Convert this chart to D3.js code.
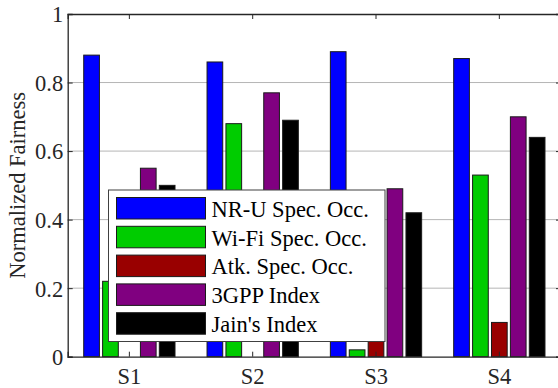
<!DOCTYPE html>
<html>
<head>
<meta charset="utf-8">
<script src="https://cdn.jsdelivr.net/npm/d3@7"></script>
<style>
  body { margin: 0; background: #fff; }
  svg { display: block; font-family: "Liberation Serif", "Times New Roman", serif; }
</style>
</head>
<body>
<div id="chart"></div>
<script>
var scenarios = ['S1', 'S2', 'S3', 'S4'];
var seriesNames = ['NR-U Spec. Occ.', 'Wi-Fi Spec. Occ.', 'Atk. Spec. Occ.', '3GPP Index', "Jain's Index"];
var seriesColors = ['#0000ff', '#00cc00', '#990000', '#800080', '#000000'];
var nruOcc = [0.88, 0.86, 0.89, 0.87];
var wifiOcc = [0.22, 0.68, 0.02, 0.53];
var atkOcc = [0, 0, 0.08, 0.10];
var gppIndex = [0.55, 0.77, 0.49, 0.70];
var jainIndex = [0.50, 0.69, 0.42, 0.64];
var yTicks = [0, 0.2, 0.4, 0.6, 0.8, 1];

var seriesValues = [nruOcc, wifiOcc, atkOcc, gppIndex, jainIndex];

var width = 558, height = 388;
var plot = { left: 67.7, right: 561, top: 14, bottom: 356.7 };
var axisColor = '#262626';
var fontSize = '22.5px';

var svg = d3.select('#chart').append('svg')
  .attr('width', width)
  .attr('height', height);

var x = d3.scaleBand()
  .domain(scenarios)
  .range([plot.left, plot.right])
  .padding(0);

var inner = d3.scaleBand()
  .domain(d3.range(seriesNames.length))
  .range([-47.25, 47.25])
  .paddingInner(0.17)
  .paddingOuter(0.085);

var y = d3.scaleLinear()
  .domain([0, 1])
  .range([plot.bottom, plot.top]);

// grid
svg.append('g')
  .selectAll('line')
  .data(yTicks.slice(1, -1))
  .enter().append('line')
  .attr('x1', plot.left)
  .attr('x2', plot.right)
  .attr('y1', function (d) { return y(d); })
  .attr('y2', function (d) { return y(d); })
  .attr('stroke', '#b5b5b5')
  .attr('stroke-width', 1);

// bars
var rows = [];
scenarios.forEach(function (s, i) {
  seriesValues.forEach(function (vals, k) {
    rows.push({ scen: s, k: k, v: vals[i] });
  });
});

svg.append('g')
  .selectAll('rect')
  .data(rows.filter(function (d) { return d.v > 0; }))
  .enter().append('rect')
  .attr('x', function (d) { return x(d.scen) + x.bandwidth() / 2 + inner(d.k); })
  .attr('y', function (d) { return y(d.v); })
  .attr('width', inner.bandwidth())
  .attr('height', function (d) { return y(0) - y(d.v); })
  .attr('fill', function (d) { return seriesColors[d.k]; })
  .attr('stroke', '#1a1a1a')
  .attr('stroke-width', 1);

// axes
var yAxis = svg.append('g')
  .attr('transform', 'translate(' + plot.left + ',0)')
  .call(d3.axisLeft(y).tickValues(yTicks).tickSize(-5).tickPadding(4.5)
    .tickFormat(function (d) { return d === 0 || d === 1 ? d3.format('d')(d) : d3.format('.1f')(d); }));

var yAxisRight = svg.append('g')
  .attr('transform', 'translate(' + plot.right + ',0)')
  .call(d3.axisRight(y).tickValues(yTicks).tickSize(-5).tickFormat(''));

var xAxis = svg.append('g')
  .attr('transform', 'translate(0,' + plot.bottom + ')')
  .call(d3.axisBottom(x).tickSize(-5).tickPadding(11));

var xAxisTop = svg.append('g')
  .attr('transform', 'translate(0,' + plot.top + ')')
  .call(d3.axisTop(x).tickSize(-5).tickFormat(''));

[yAxis, yAxisRight, xAxis, xAxisTop].forEach(function (g) {
  g.select('.domain').attr('stroke', axisColor).attr('stroke-width', 1.3);
  g.selectAll('.tick line').attr('stroke', axisColor);
  g.selectAll('text')
    .attr('fill', axisColor)
    .style('font-family', '"Liberation Serif", serif')
    .style('font-size', fontSize);
});
yAxis.selectAll('text').attr('dy', '0.35em');

// y label
svg.append('text')
  .attr('transform', 'translate(25,' + ((plot.top + plot.bottom) / 2) + ') rotate(-90)')
  .attr('text-anchor', 'middle')
  .attr('fill', axisColor)
  .style('font-size', fontSize)
  .text('Normalized Fairness');

// legend
var legend = svg.append('g')
  .attr('transform', 'translate(108.5,190)');

legend.append('rect')
  .attr('width', 276.5)
  .attr('height', 151.5)
  .attr('fill', '#fff')
  .attr('stroke', '#404040')
  .attr('stroke-width', 1);

var item = legend.selectAll('g.item')
  .data(seriesNames)
  .enter().append('g')
  .attr('class', 'item')
  .attr('transform', function (d, i) { return 'translate(8,' + (7.5 + i * 28.8) + ')'; });

item.append('rect')
  .attr('width', 89)
  .attr('height', 21.5)
  .attr('fill', function (d, i) { return seriesColors[i]; })
  .attr('stroke', '#1a1a1a')
  .attr('stroke-width', 1);

item.append('text')
  .attr('x', 95)
  .attr('y', 11.5)
  .attr('dy', '0.35em')
  .attr('fill', '#000')
  .style('font-size', fontSize)
  .text(function (d) { return d; });
</script>
</body>
</html>
